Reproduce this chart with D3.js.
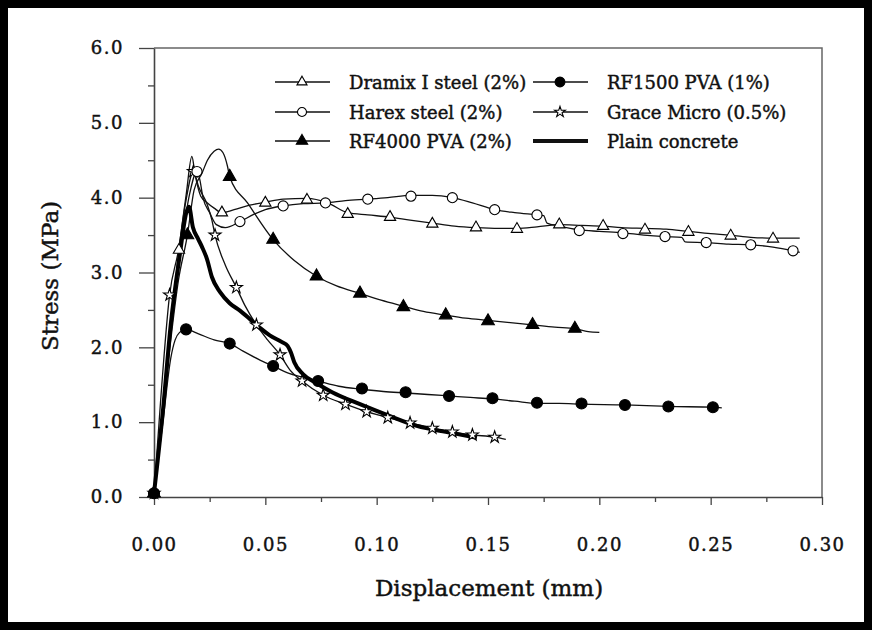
<!DOCTYPE html>
<html>
<head>
<meta charset="utf-8">
<script src="https://cdn.jsdelivr.net/npm/d3@7"></script>
<style>
  body { margin: 0; background: #fff; }
  svg text { font-family: "DejaVu Serif", serif; fill: #111; stroke: #111; stroke-width: 0.45px; }
</style>
</head>
<body>
<div id="chart"></div>
<script>
// displacement (mm), stress (MPa)
const dramixLine = [[0,0.05],[0.006,1.75],[0.0112,3.3],[0.0145,4.05],[0.017,4.55],[0.0185,4.3],[0.021,4.02],[0.024,3.93],[0.027,3.86],[0.0305,3.8],[0.036,3.84],[0.043,3.9],[0.05,3.94],[0.058,3.98],[0.0687,3.99],[0.078,3.93],[0.087,3.8],[0.096,3.77],[0.106,3.74],[0.115,3.7],[0.125,3.66],[0.135,3.62],[0.1446,3.6],[0.155,3.59],[0.163,3.59],[0.172,3.61],[0.182,3.64],[0.192,3.63],[0.2017,3.62],[0.21,3.6],[0.2205,3.59],[0.23,3.58],[0.24,3.55],[0.25,3.52],[0.259,3.5],[0.268,3.47],[0.278,3.46],[0.29,3.46]];
const dramixMarks = [[0,0.05],[0.0112,3.3],[0.0305,3.8],[0.05,3.93],[0.0687,3.97],[0.087,3.78],[0.106,3.74],[0.125,3.65],[0.1446,3.6],[0.163,3.58],[0.182,3.64],[0.2017,3.62],[0.2205,3.57],[0.24,3.54],[0.259,3.49],[0.278,3.45]];

const harexLine = [[0,0.05],[0.006,1.8],[0.012,3.3],[0.016,4.05],[0.0193,4.35],[0.0205,4.25],[0.022,4.0],[0.025,3.8],[0.028,3.64],[0.032,3.6],[0.0386,3.68],[0.045,3.78],[0.05,3.84],[0.058,3.89],[0.067,3.92],[0.077,3.93],[0.086,3.96],[0.096,3.98],[0.105,4.0],[0.1154,4.03],[0.125,4.03],[0.134,4.0],[0.143,3.93],[0.153,3.84],[0.162,3.8],[0.172,3.77],[0.175,3.76],[0.1765,3.66],[0.182,3.62],[0.191,3.57],[0.2,3.55],[0.2106,3.53],[0.22,3.5],[0.2295,3.48],[0.237,3.47],[0.2385,3.41],[0.248,3.4],[0.258,3.38],[0.268,3.37],[0.278,3.34],[0.287,3.29],[0.29,3.27]];
const harexMarks = [[0,0.05],[0.0193,4.35],[0.0386,3.68],[0.058,3.89],[0.077,3.93],[0.096,3.98],[0.1154,4.02],[0.134,4.0],[0.153,3.84],[0.172,3.77],[0.191,3.56],[0.2106,3.52],[0.2295,3.48],[0.248,3.4],[0.268,3.37],[0.287,3.29]];

const rf4000Line = [[0,0.05],[0.006,1.7],[0.011,2.9],[0.015,3.5],[0.018,4.1],[0.0216,4.33],[0.024,4.5],[0.027,4.62],[0.029,4.65],[0.031,4.6],[0.033,4.42],[0.034,4.28],[0.042,3.93],[0.0535,3.44],[0.063,3.16],[0.073,2.95],[0.082,2.82],[0.0925,2.72],[0.102,2.63],[0.112,2.55],[0.121,2.48],[0.131,2.43],[0.14,2.39],[0.15,2.36],[0.16,2.33],[0.17,2.3],[0.18,2.27],[0.189,2.25],[0.195,2.21],[0.2,2.2]];
const rf4000Marks = [[0,0.05],[0.015,3.5],[0.034,4.28],[0.0535,3.44],[0.073,2.95],[0.0925,2.72],[0.112,2.54],[0.131,2.43],[0.15,2.35],[0.17,2.3],[0.189,2.25]];

const rf1500Line = [[0,0.05],[0.004,1.0],[0.0075,1.85],[0.0095,2.1],[0.0115,2.2],[0.0144,2.24],[0.02,2.18],[0.027,2.1],[0.034,2.05],[0.04,1.95],[0.047,1.84],[0.0535,1.75],[0.06,1.66],[0.067,1.6],[0.0737,1.55],[0.083,1.48],[0.0934,1.44],[0.103,1.41],[0.113,1.39],[0.123,1.37],[0.1325,1.35],[0.142,1.33],[0.152,1.31],[0.162,1.28],[0.172,1.25],[0.182,1.25],[0.192,1.24],[0.2115,1.23],[0.231,1.21],[0.251,1.2],[0.255,1.19]];
const rf1500Marks = [[0,0.05],[0.0144,2.24],[0.034,2.05],[0.0535,1.75],[0.0737,1.55],[0.0934,1.45],[0.113,1.4],[0.1325,1.35],[0.152,1.32],[0.172,1.26],[0.192,1.25],[0.2115,1.23],[0.231,1.21],[0.251,1.2]];

const graceLine = [[0,0.05],[0.003,1.3],[0.007,2.7],[0.011,3.3],[0.014,3.9],[0.0177,4.35],[0.02,4.15],[0.024,3.9],[0.026,3.7],[0.0274,3.5],[0.032,3.1],[0.037,2.8],[0.041,2.55],[0.046,2.3],[0.051,2.1],[0.0566,1.9],[0.061,1.7],[0.0665,1.55],[0.076,1.36],[0.086,1.24],[0.0955,1.14],[0.105,1.06],[0.115,0.99],[0.125,0.92],[0.134,0.87],[0.143,0.83],[0.153,0.8],[0.158,0.77]];
const graceMarks = [[0,0.05],[0.007,2.7],[0.0177,4.35],[0.0274,3.5],[0.037,2.8],[0.046,2.3],[0.0566,1.9],[0.0665,1.55],[0.076,1.36],[0.086,1.24],[0.0955,1.14],[0.105,1.06],[0.115,0.99],[0.125,0.92],[0.134,0.87],[0.143,0.83],[0.153,0.8]];

const plainLine = [[0,0.05],[0.004,1.15],[0.0075,2.3],[0.0117,3.26],[0.0145,3.8],[0.0157,3.88],[0.0175,3.6],[0.0198,3.45],[0.0216,3.34],[0.0238,3.18],[0.026,2.94],[0.0296,2.74],[0.034,2.59],[0.0386,2.49],[0.043,2.38],[0.048,2.25],[0.052,2.16],[0.0575,2.07],[0.06,2.02],[0.0615,1.93],[0.063,1.8],[0.067,1.64],[0.073,1.52],[0.08,1.4],[0.0925,1.24],[0.106,1.08],[0.118,0.95],[0.133,0.86],[0.145,0.79]];

const legendNames = ["Dramix I steel (2%)", "Harex steel (2%)", "RF4000 PVA (2%)", "RF1500 PVA (1%)", "Grace Micro (0.5%)", "Plain concrete"];
const yTicks = [0, 1, 2, 3, 4, 5, 6];
const xTicks = [0, 0.05, 0.1, 0.15, 0.2, 0.25, 0.3];

const width = 872;
const height = 630;
const plot = { left: 154, right: 822, top: 48, bottom: 497 };

const svg = d3.select("#chart")
    .append("svg")
    .attr("width", width)
    .attr("height", height);

// thick black frame round the whole picture
svg.append("rect")
    .attr("x", 4).attr("y", 4)
    .attr("width", width - 8).attr("height", height - 8)
    .attr("fill", "#fff")
    .attr("stroke", "#000")
    .attr("stroke-width", 8);

const x = d3.scaleLinear().domain([0, 0.3]).range([plot.left, plot.right]);
const y = d3.scaleLinear().domain([0, 6]).range([plot.bottom, plot.top]);

// top and right edges of the box
svg.append("path")
    .attr("d", `M${plot.left},${plot.top}H${plot.right}V${plot.bottom}`)
    .attr("fill", "none")
    .attr("stroke", "#666")
    .attr("stroke-width", 1.5);

// minor ticks
svg.append("g")
    .attr("transform", `translate(${plot.left},0)`)
    .call(d3.axisLeft(y).tickValues(d3.range(0.5, 6, 1)).tickSize(6).tickFormat(""))
    .call(g => g.select(".domain").remove());
svg.append("g")
    .attr("transform", `translate(0,${plot.bottom})`)
    .call(d3.axisBottom(x).tickValues(d3.range(0.025, 0.3, 0.05)).tickSize(5).tickFormat(""))
    .call(g => g.select(".domain").remove());

const yAxis = svg.append("g")
    .attr("transform", `translate(${plot.left},0)`)
    .call(d3.axisLeft(y).tickValues(yTicks).tickSize(15).tickPadding(15).tickFormat(d3.format(".1f")).tickSizeOuter(0));

const xAxis = svg.append("g")
    .attr("transform", `translate(0,${plot.bottom})`)
    .call(d3.axisBottom(x).tickValues(xTicks).tickSize(8).tickPadding(33).tickFormat(d3.format(".2f")).tickSizeOuter(0));

svg.selectAll(".tick line").attr("stroke", "#444").attr("stroke-width", 1.3);
svg.selectAll(".domain").attr("stroke", "#444").attr("stroke-width", 1.6);
[yAxis, xAxis].forEach(a => a.selectAll("text")
    .attr("font-size", 18)
    .attr("letter-spacing", 1.5)
    .attr("fill", "#111")
    .style("font-family", "'DejaVu Serif', serif"));

svg.append("text")
    .attr("transform", "translate(50,276) rotate(-90)")
    .attr("text-anchor", "middle")
    .attr("dominant-baseline", "central")
    .attr("font-size", 23)
    .text("Stress (MPa)");

svg.append("text")
    .attr("x", 489)
    .attr("y", 588)
    .attr("text-anchor", "middle")
    .attr("dominant-baseline", "central")
    .attr("font-size", 23)
    .text("Displacement (mm)");

const line = d3.line()
    .x(d => x(d[0]))
    .y(d => y(d[1]))
    .curve(d3.curveMonotoneX);

const series = [
    { line: dramixLine, marks: dramixMarks, shape: d3.symbolTriangle, fill: "#fff", size: 55 },
    { line: harexLine, marks: harexMarks, shape: d3.symbolCircle, fill: "#fff", size: 80 },
    { line: rf4000Line, marks: rf4000Marks, shape: d3.symbolTriangle, fill: "#000", size: 70 },
    { line: rf1500Line, marks: rf1500Marks, shape: d3.symbolCircle, fill: "#000", size: 95 },
    { line: graceLine, marks: graceMarks, shape: d3.symbolStar, fill: "#fff", size: 45 }
];

series.forEach(s => {
    svg.append("path")
        .attr("d", line(s.line))
        .attr("fill", "none")
        .attr("stroke", "#111")
        .attr("stroke-width", 1.3);
});

svg.append("path")
    .attr("d", line(plainLine))
    .attr("fill", "none")
    .attr("stroke", "#000")
    .attr("stroke-width", 4)
    .attr("stroke-linejoin", "round");

// open markers first so the solid ones sit on top at the origin
[series[4], series[0], series[1], series[2], series[3]].forEach(s => {
    svg.append("g")
        .selectAll("path")
        .data(s.marks)
        .join("path")
        .attr("transform", d => `translate(${x(d[0])},${y(d[1])})`)
        .attr("d", d3.symbol().type(s.shape).size(s.size))
        .attr("fill", s.fill)
        .attr("stroke", "#000")
        .attr("stroke-width", 1.1);
});

// legend, two columns of three
const legendRows = [82, 112, 141];
const legendCols = [275, 533];
const legendItems = [series[0], series[1], series[2], series[3], series[4], null];

legendNames.forEach((name, i) => {
    const lx = legendCols[Math.floor(i / 3)];
    const ly = legendRows[i % 3];
    const s = legendItems[i];
    const g = svg.append("g").attr("transform", `translate(${lx},${ly})`);

    g.append("line")
        .attr("x1", 0).attr("x2", 55)
        .attr("stroke", "#111")
        .attr("stroke-width", s ? 1.3 : 4);

    if (s) {
        g.append("path")
            .attr("transform", "translate(27,0)")
            .attr("d", d3.symbol().type(s.shape).size(s.size * 0.8))
            .attr("fill", s.fill)
            .attr("stroke", "#000")
            .attr("stroke-width", 1.1);
    }

    g.append("text")
        .attr("x", 74)
        .attr("dominant-baseline", "central")
        .attr("font-size", 18)
        .text(name);
});
</script>
</body>
</html>
